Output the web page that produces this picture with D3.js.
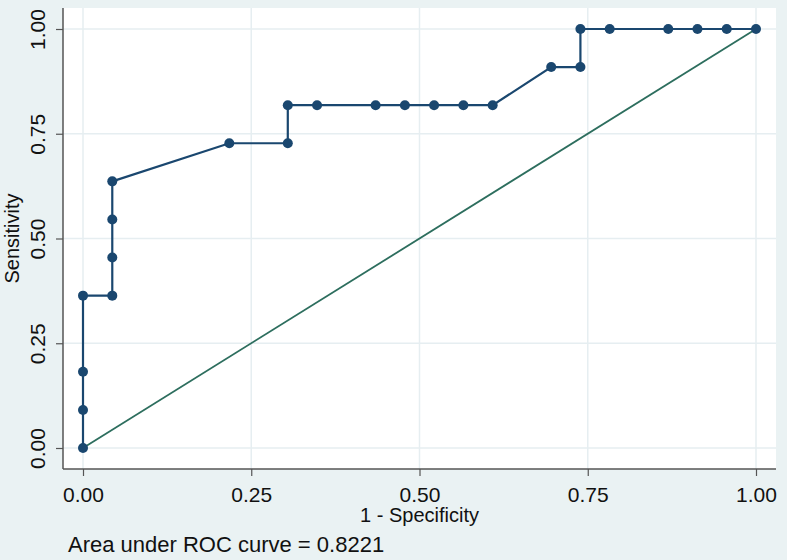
<!DOCTYPE html>
<html>
<head>
<meta charset="utf-8">
<script src="https://cdn.jsdelivr.net/npm/d3@7"></script>
<style>
  body { margin: 0; background: #eaf2f3; }
  text { font-family: "Liberation Sans", Arial, sans-serif; fill: #111; }
</style>
</head>
<body>
<div id="chart"></div>
<script>
// ROC points (1 - specificity, sensitivity)
var fpr = [0, 0, 0, 0, 0.0435, 0.0435, 0.0435, 0.0435, 0.2174, 0.3043, 0.3043, 0.3478,
  0.4348, 0.4783, 0.5217, 0.5652, 0.6087, 0.6957, 0.7391, 0.7391, 0.7826, 0.8696,
  0.9130, 0.9565, 1];
var sensitivity = [0, 0.0909, 0.1818, 0.3636, 0.3636, 0.4545, 0.5455, 0.6364, 0.7273, 0.7273,
  0.8182, 0.8182, 0.8182, 0.8182, 0.8182, 0.8182, 0.8182, 0.9091, 0.9091, 1,
  1, 1, 1, 1, 1];
var refLine = [0, 1];
var xTicks = [0, 0.25, 0.5, 0.75, 1];
var yTicks = [0, 0.25, 0.5, 0.75, 1];
var aucText = "Area under ROC curve = 0.8221";

var svgWidth = 787;
var svgHeight = 560;

// plot region (white area)
var plot = { left: 63, right: 776, top: 8, bottom: 469 };

var svg = d3.select("#chart")
  .append("svg")
  .attr("width", svgWidth)
  .attr("height", svgHeight);

svg.append("rect")
  .attr("width", svgWidth)
  .attr("height", svgHeight)
  .attr("fill", "#eaf2f3");

svg.append("rect")
  .attr("x", plot.left)
  .attr("y", plot.top)
  .attr("width", plot.right - plot.left)
  .attr("height", plot.bottom - plot.top)
  .attr("fill", "#ffffff");

var x = d3.scaleLinear().domain([0, 1]).range([83, 756]);
var y = d3.scaleLinear().domain([0, 1]).range([448, 29]);

// gridlines
svg.append("g").selectAll("line")
  .data(xTicks)
  .enter().append("line")
  .attr("x1", d => x(d)).attr("x2", d => x(d))
  .attr("y1", plot.top).attr("y2", plot.bottom)
  .attr("stroke", "#e6eef1")
  .attr("stroke-width", 1.5);

svg.append("g").selectAll("line")
  .data(yTicks)
  .enter().append("line")
  .attr("x1", plot.left).attr("x2", plot.right)
  .attr("y1", d => y(d)).attr("y2", d => y(d))
  .attr("stroke", "#e6eef1")
  .attr("stroke-width", 1.5);

// reference diagonal
svg.append("line")
  .attr("x1", x(refLine[0])).attr("y1", y(refLine[0]))
  .attr("x2", x(refLine[1])).attr("y2", y(refLine[1]))
  .attr("stroke", "#2d6e5e")
  .attr("stroke-width", 1.8);

// ROC curve
var points = fpr.map((d, i) => [d, sensitivity[i]]);

svg.append("path")
  .datum(points)
  .attr("fill", "none")
  .attr("stroke", "#1a476f")
  .attr("stroke-width", 2.2)
  .attr("d", d3.line().x(d => x(d[0])).y(d => y(d[1])));

svg.append("g").selectAll("circle")
  .data(points)
  .enter().append("circle")
  .attr("cx", d => x(d[0]))
  .attr("cy", d => y(d[1]))
  .attr("r", 5)
  .attr("fill", "#1a476f");

// axes
var bottomAxis = d3.axisBottom(x)
  .tickValues(xTicks)
  .tickSize(7)
  .tickSizeOuter(0)
  .tickFormat(d3.format(".2f"));

var xAxisG = svg.append("g")
  .attr("transform", `translate(0, ${plot.bottom})`)
  .call(bottomAxis);
xAxisG.select(".domain").remove();
xAxisG.selectAll("line").attr("stroke", "#555").attr("stroke-width", 1.2);
xAxisG.selectAll("text")
  .attr("y", 33)
  .attr("dy", 0)
  .style("font-size", "21px")
  .style("font-family", "'Liberation Sans', Arial, sans-serif")
  .attr("fill", "#111");

var leftAxis = d3.axisLeft(y)
  .tickValues(yTicks)
  .tickSize(7)
  .tickSizeOuter(0)
  .tickFormat(d3.format(".2f"));

var yAxisG = svg.append("g")
  .attr("transform", `translate(${plot.left}, 0)`)
  .call(leftAxis);
yAxisG.select(".domain").remove();
yAxisG.selectAll("line").attr("stroke", "#555").attr("stroke-width", 1.2);
yAxisG.selectAll("text")
  .attr("transform", "rotate(-90)")
  .attr("x", 0)
  .attr("y", -18)
  .attr("dy", 0)
  .attr("text-anchor", "middle")
  .style("font-size", "21px")
  .style("font-family", "'Liberation Sans', Arial, sans-serif")
  .attr("fill", "#111");

// axis lines span the whole plot region
svg.append("line")
  .attr("x1", plot.left).attr("x2", plot.left)
  .attr("y1", plot.top).attr("y2", plot.bottom)
  .attr("stroke", "#555").attr("stroke-width", 1.5);
svg.append("line")
  .attr("x1", plot.left).attr("x2", plot.right)
  .attr("y1", plot.bottom).attr("y2", plot.bottom)
  .attr("stroke", "#555").attr("stroke-width", 1.5);

// titles
svg.append("text")
  .attr("x", (plot.left + plot.right) / 2)
  .attr("y", 522)
  .attr("text-anchor", "middle")
  .style("font-size", "20px")
  .text("1 - Specificity");

svg.append("text")
  .attr("transform", `translate(19, ${(plot.top + plot.bottom) / 2}) rotate(-90)`)
  .attr("text-anchor", "middle")
  .style("font-size", "20px")
  .text("Sensitivity");

svg.append("text")
  .attr("x", 68)
  .attr("y", 552)
  .style("font-size", "22px")
  .text(aucText);
</script>
</body>
</html>
